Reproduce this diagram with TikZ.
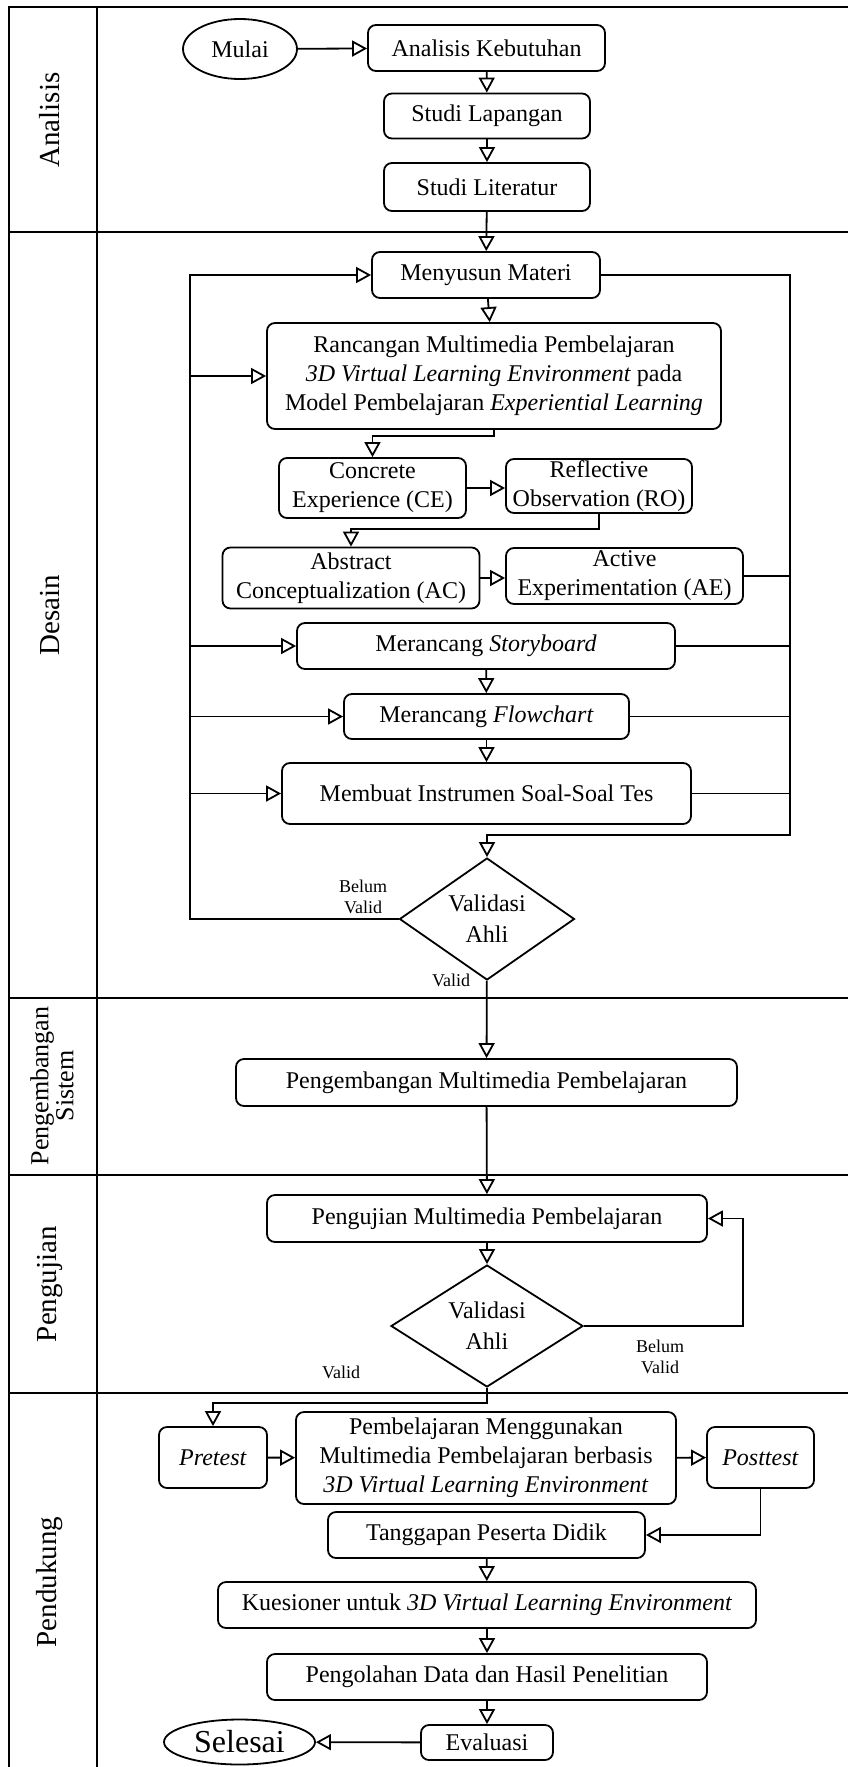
\documentclass[tikz,border=0pt]{standalone}
\usepackage{fontspec}
\setmainfont{Liberation Serif}
\usetikzlibrary{arrows.meta,shapes.geometric}

\begin{document}
\begin{tikzpicture}[x=0.5pt,y=-0.5pt,
  kotak/.style 2 args={draw,rounded corners=4pt,line width=0.9pt,align=center,inner sep=0pt,
    minimum width=#1,minimum height=#2,font=\fontsize{12}{14.5}\selectfont},
  oval/.style 2 args={draw,ellipse,line width=0.9pt,inner sep=0pt,minimum width=#1,minimum height=#2},
  belah/.style 2 args={draw,diamond,aspect=1.45,line width=0.9pt,inner sep=0pt,align=center,
    minimum width=#1,minimum height=#2,font=\fontsize{12}{15.5}\selectfont},
  panah/.style={line width=0.9pt,-{Triangle[open,length=7.5pt,width=8pt]}},
  garis/.style={line width=0.9pt},
  lajur/.style={rotate=90,align=center,font=\fontsize{14.5}{12}\selectfont},
  ket/.style={align=center,font=\fontsize{9}{10.5}\selectfont},
  bingkai/.style={line width=1.4pt}]
\useasboundingbox (0,0) rectangle (848,1767);

% lajur
\draw[bingkai] (9,1767) -- (9,7) -- (848,7);
\draw[bingkai] (97,7) -- (97,1767);
\foreach \y in {232,998,1175,1393}
  \draw[bingkai] (9,\y) -- (848,\y);

\node[lajur] (lAnalisis) at (50,120)  {Analisis};
\node[lajur] (lDesain)   at (50,615)  {Desain};
\node[lajur,font=\fontsize{13}{11}\selectfont] (lSistem) at (52,1086) {Pengembangan\\Sistem};
\node[lajur] (lUji)      at (50,1284) {Pengujian};
\node[lajur] (lDukung)   at (50,1582) {Pendukung};

% analisis
\node[oval={57pt}{30pt},font=\fontsize{12}{14.5}\selectfont] (mulai) at (240,49) {Mulai};
\node[kotak={118.5pt}{23pt}] (analisis)  at (486.5,48) {Analisis Kebutuhan};
\node[kotak={103pt}{22.5pt}] (lapangan)  at (487,116)  {Studi Lapangan};
\node[kotak={103pt}{24pt}]   (literatur) at (487,187)  {Studi Literatur};

% desain
\node[kotak={114pt}{23pt}]   (materi)    at (486,275)  {Menyusun Materi};
\node[kotak={227pt}{53pt}]   (rancangan) at (494,376)  {Rancangan Multimedia Pembelajaran\\
  \textit{3D Virtual Learning Environment} pada\\Model Pembelajaran \textit{Experiential Learning}};
\node[kotak={93.5pt}{30pt}]  (ce) at (372.5,488) {Concrete\\Experience (CE)};
\node[kotak={93pt}{27pt}]    (ro) at (599,486)   {Reflective\\Observation (RO)};
\node[kotak={128.5pt}{30.5pt}] (ac) at (351,578) {Abstract\\Conceptualization (AC)};
\node[kotak={118.5pt}{28pt}] (ae) at (624.5,576) {Active\\Experimentation (AE)};
\node[kotak={189pt}{23pt}]   (story)     at (486,646)     {Merancang \textit{Storyboard}};
\node[kotak={142.5pt}{22.5pt}] (flow)    at (486.5,716.5) {Merancang \textit{Flowchart}};
\node[kotak={204.5pt}{30.5pt}] (instrumen) at (486.5,793.5) {Membuat Instrumen Soal-Soal Tes};
\node[belah={87.5pt}{61pt}]  (valid1)    at (487,919)  {Validasi\\Ahli};
\node[ket] (belum1) at (363,897) {Belum\\Valid};
\node[ket] (lolos1) at (451,980) {Valid};

\coordinate (kiri)  at (190,275);
\coordinate (kanan) at (790,835);

% pengembangan sistem
\node[kotak={250.5pt}{23.5pt}] (pengembangan) at (486.5,1082.5) {Pengembangan Multimedia Pembelajaran};

% pengujian
\node[kotak={220pt}{23.5pt}] (pengujian) at (487,1218.5) {Pengujian Multimedia Pembelajaran};
\node[belah={96pt}{61pt}]    (valid2)    at (487,1326)   {Validasi\\Ahli};
\node[ket] (belum2) at (660,1357) {Belum\\Valid};
\node[ket] (lolos2) at (341,1372) {Valid};
\coordinate (balik)  at (743,1326);
\coordinate (cabang) at (213,1403);

% pendukung
\node[kotak={54pt}{30.5pt}]   (pretest)  at (213,1457.5) {\textit{Pretest}};
\node[kotak={190pt}{46pt}]    (belajar)  at (486,1458)   {Pembelajaran Menggunakan\\
  Multimedia Pembelajaran berbasis\\\textit{3D Virtual Learning Environment}};
\node[kotak={53.5pt}{30.5pt}] (posttest) at (760.5,1457.5) {\textit{Posttest}};
\node[kotak={158.5pt}{23pt}]  (tanggapan) at (486.5,1535) {Tanggapan Peserta Didik};
\node[kotak={269pt}{23pt}]    (kuesioner) at (487,1605)   {Kuesioner untuk \textit{3D Virtual Learning Environment}};
\node[kotak={220pt}{23pt}]    (olah)      at (487,1677)   {Pengolahan Data dan Hasil Penelitian};
\node[kotak={66pt}{17.5pt}]   (evaluasi)  at (487,1742.5) {Evaluasi};
\node[oval={75.5pt}{22.5pt},font=\fontsize{16}{18}\selectfont] (selesai) at (239.5,1742) {Selesai};

% alur
\draw[panah] (mulai) -- (analisis);
\draw[panah] (analisis) -- (lapangan);
\draw[panah] (lapangan) -- (literatur);
\draw[panah] (literatur) -- (materi);
\draw[panah] (materi) -- (rancangan);
\draw[panah] (rancangan.south) -- ++(0,6) -| (ce.north);
\draw[panah] (ce.east) -- (ce.east -| ro.west);
\draw[panah] (ro.south) -- ++(0,15) -| (ac.north);
\draw[panah] (ac.east) -- (ac.east -| ae.west);
\draw[panah] (story) -- (flow);
\draw[panah] (flow) -- (instrumen);

\draw[panah] (materi.east) -| (kanan) -| (valid1.north);
\foreach \n in {ae,story,flow,instrumen}
  \draw[garis] (\n.east) -- (\n.east -| kanan);
\draw[panah] (valid1.west) -| (kiri) -- (materi.west);
\foreach \n in {rancangan,story,flow,instrumen}
  \draw[panah] (kiri |- \n.west) -- (\n.west);

\draw[panah] (valid1) -- (pengembangan);
\draw[panah] (pengembangan) -- (pengujian);
\draw[panah] (pengujian) -- (valid2);
\draw[panah] (valid2.east) -- (balik) |- (pengujian.east);
\draw[panah] (valid2.south) |- (cabang) -- (pretest.north);
\draw[panah] (pretest) -- (belajar);
\draw[panah] (belajar) -- (posttest);
\draw[panah] (posttest.south) |- (tanggapan.east);
\draw[panah] (tanggapan) -- (kuesioner);
\draw[panah] (kuesioner) -- (olah);
\draw[panah] (olah) -- (evaluasi);
\draw[panah] (evaluasi) -- (selesai);

\end{tikzpicture}
\end{document}
